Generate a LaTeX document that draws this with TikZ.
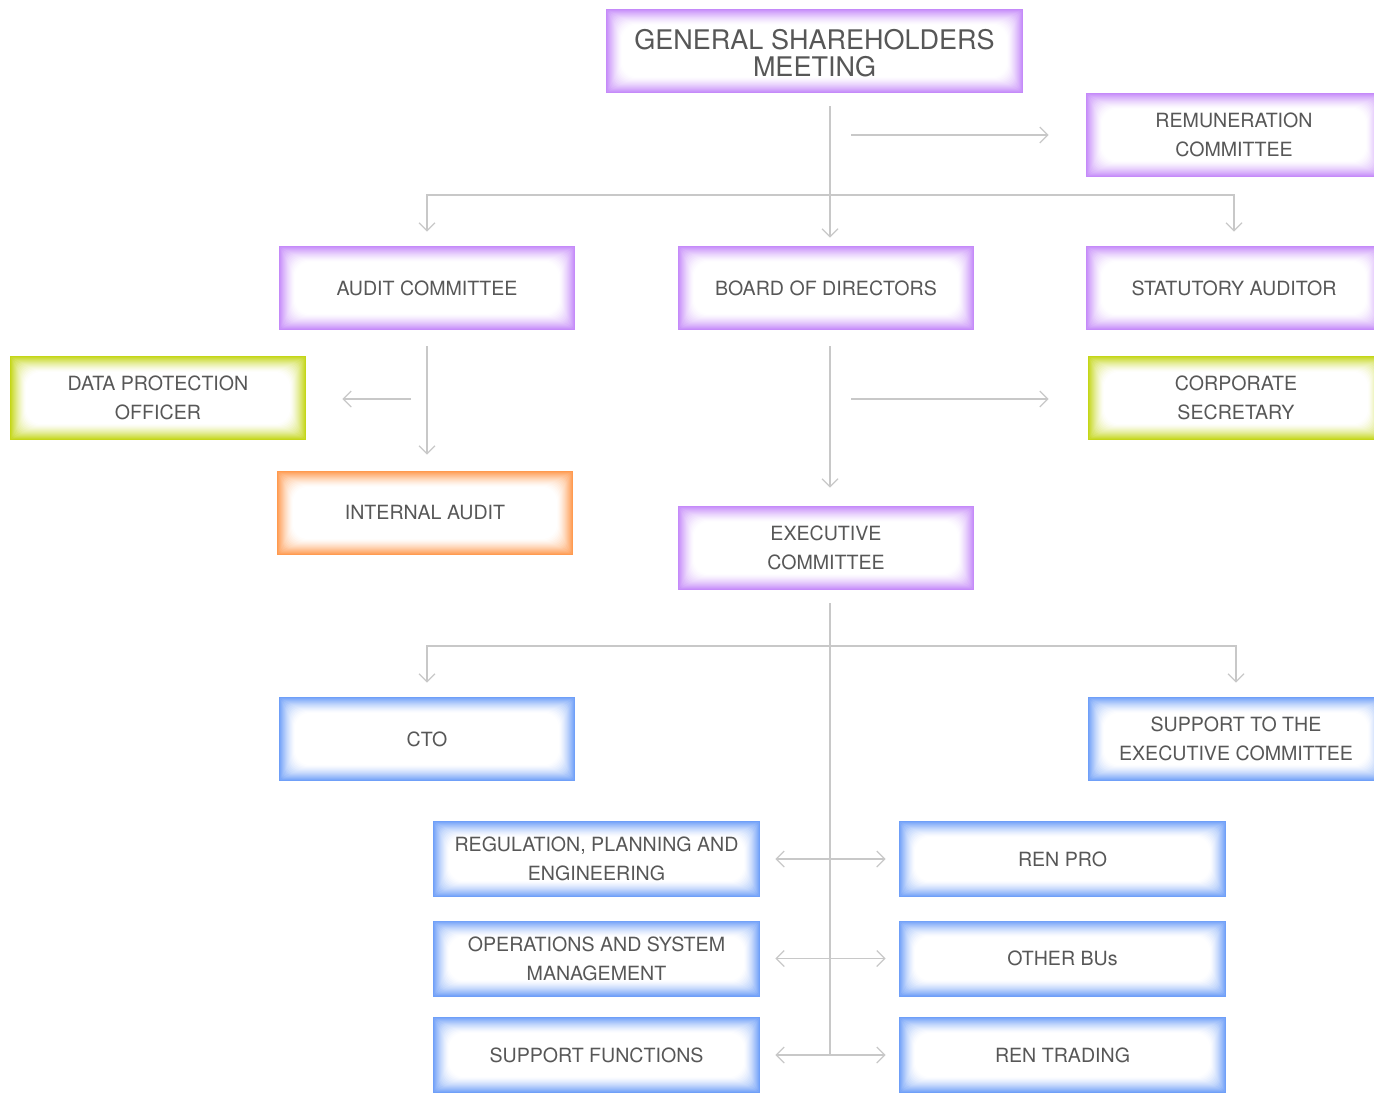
\documentclass[tikz,border=0pt]{standalone}
\usepackage{fontspec}
\setmainfont{TeX Gyre Heros}
\usetikzlibrary{arrows.meta}

\definecolor{lilac}{HTML}{C58AF9}
\definecolor{lime}{HTML}{C4D617}
\definecolor{tangerine}{HTML}{FF9A4F}
\definecolor{skyblue}{HTML}{6F9FF8}
\definecolor{linkgray}{HTML}{C8C8C8}
\definecolor{textgray}{HTML}{575757}

\tikzset{
  glow/.style={fill=white, path picture={
    \foreach \i [evaluate=\i as \pct using {int(100*((16-\i)/16)^1.4)}] in {0,...,16}
      \fill[#1!\pct!white, rounded corners=\i*0.45pt] ([shift={(\i*0.5pt,-\i*0.5pt)}]path picture bounding box.north west)
        rectangle ([shift={(-\i*0.5pt,\i*0.5pt)}]path picture bounding box.south east);
  }},
  unit/.style={glow=#1, minimum width=148pt, minimum height=42pt, inner sep=0pt,
    align=center, text=textgray, font=\fontsize{9.8}{14.5}\selectfont},
  wideunit/.style={unit=#1, minimum width=163.5pt, minimum height=38pt},
  link/.style={draw=linkgray, line width=0.6pt},
  arrow/.style={link, -{Straight Barb[length=4pt,width=8pt]}},
  biarrow/.style={link, {Straight Barb[length=4pt,width=8pt]}-{Straight Barb[length=4pt,width=8pt]}},
}

\begin{document}
\begin{tikzpicture}[x=0.5pt, y=-0.5pt]
  \useasboundingbox (0,0) rectangle (1374,1093);
  % governing bodies
  \node[unit=lilac, minimum width=208.5pt, font=\fontsize{13.5}{13.5}\selectfont] (gsm) at (814.5,51) {\rule{0pt}{12.7pt}GENERAL SHAREHOLDERS\\MEETING};
  \node[unit=lilac] (remu) at (1234,135) {REMUNERATION\\COMMITTEE};
  \node[unit=lilac] (audit) at (427,288) {AUDIT COMMITTEE};
  \node[unit=lilac] (board) at (826,288) {BOARD OF DIRECTORS};
  \node[unit=lilac] (statutory) at (1234,288) {STATUTORY AUDITOR};
  \node[unit=lime] (dpo) at (158,398) {DATA PROTECTION\\OFFICER};
  \node[unit=lime] (corp) at (1236,398) {CORPORATE\\SECRETARY};
  \node[unit=tangerine] (intaudit) at (425,513) {INTERNAL AUDIT};
  \node[unit=lilac] (exec) at (826,548) {EXECUTIVE\\COMMITTEE};
  % management
  \node[unit=skyblue] (cto) at (427,739) {CTO};
  \node[unit=skyblue] (supportec) at (1236,739) {SUPPORT TO THE\\EXECUTIVE COMMITTEE};
  \node[wideunit=skyblue] (reg) at (596.5,859) {REGULATION, PLANNING AND\\ENGINEERING};
  \node[wideunit=skyblue] (renpro) at (1062.5,859) {REN PRO};
  \node[wideunit=skyblue] (ops) at (596.5,958.5) {OPERATIONS AND SYSTEM\\MANAGEMENT};
  \node[wideunit=skyblue] (otherbu) at (1062.5,958.5) {OTHER BUs};
  \node[wideunit=skyblue] (supfun) at (596.5,1055) {SUPPORT FUNCTIONS};
  \node[wideunit=skyblue] (rentrading) at (1062.5,1055) {REN TRADING};

  % links
  \coordinate (gsmout) at (830,106);
  \coordinate (remuin) at (851,135);
  \coordinate (govsplit) at (830,195);
  \draw[arrow, shorten >=4pt] (gsmout) -- (gsmout |- board.north);
  \draw[arrow, shorten >=18.5pt] (remuin) -- (remu.west);
  \draw[arrow, shorten >=7pt] (govsplit) -| (audit.north);
  \draw[arrow, shorten >=7pt] (govsplit) -| (statutory.north);
  \draw[arrow, shorten <=8pt, shorten >=8pt] (audit.south) -- (audit.south |- intaudit.north);
  \coordinate (dpoin) at (411,399);
  \draw[arrow, shorten >=18pt] (dpoin) -- (dpoin -| dpo.east);
  \draw[arrow, shorten <=8pt, shorten >=9pt] (board.south -| gsmout) -- (exec.north -| gsmout);
  \coordinate (corpin) at (851,399);
  \draw[arrow, shorten >=19.5pt] (corpin) -- (corpin -| corp.west);
  \coordinate (execout) at (830,603);
  \coordinate (execsplit) at (830,646);
  \coordinate (execend) at (830,1056);
  \draw[link] (execout) -- (execend);
  \draw[arrow, shorten >=7pt] (execsplit) -| (cto.north);
  \draw[arrow, shorten >=7pt] (execsplit) -| (supportec.north);
  \draw[biarrow, shorten <=7.5pt, shorten >=6.5pt] (reg.east) -- (renpro.west);
  \draw[biarrow, shorten <=7.5pt, shorten >=6.5pt] (ops.east) -- (otherbu.west);
  \draw[biarrow, shorten <=7.5pt, shorten >=6.5pt] (supfun.east) -- (rentrading.west);
\end{tikzpicture}
\end{document}
